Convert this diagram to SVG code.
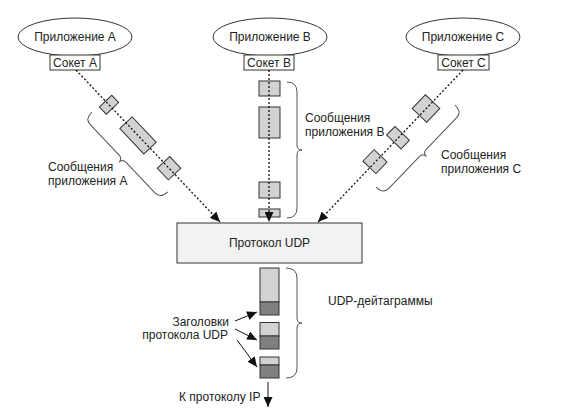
<svg xmlns="http://www.w3.org/2000/svg" width="571" height="418" viewBox="0 0 571 418">
<defs>
<marker id="ah" markerUnits="userSpaceOnUse" markerWidth="10" markerHeight="9" refX="10" refY="4.5" orient="auto">
<path d="M0,0 L10,4.5 L0,9 z" fill="#111"/>
</marker>
<style>
text{font-family:"Liberation Sans",Arial,sans-serif;font-size:12px;fill:#222}
.mid{text-anchor:middle}
.end{text-anchor:end}
.app{fill:#fff;stroke:#333;stroke-width:1}
.sock{fill:#fff;stroke:#333;stroke-width:1}
.msg{fill:#d2d2d2;stroke:#333;stroke-width:1}
.hdr{fill:#808080;stroke:#333;stroke-width:1}
.brace{fill:none;stroke:#555;stroke-width:1}
.dash{fill:none;stroke:#111;stroke-width:1.3;stroke-dasharray:2 2;marker-end:url(#ah)}
.arr{fill:none;stroke:#111;stroke-width:1;marker-end:url(#ah)}
</style>
</defs>
<rect width="571" height="418" fill="#fff"/>

<g id="appA">
<ellipse class="app" cx="75" cy="37" rx="57" ry="19"/>
<text class="mid" x="75" y="41">Приложение A</text>
<rect class="sock" x="50" y="55" width="50" height="15"/>
<text class="mid" x="75" y="67">Сокет A</text>
</g>
<g id="appB">
<ellipse class="app" cx="270" cy="37" rx="57" ry="19"/>
<text class="mid" x="270" y="41">Приложение B</text>
<rect class="sock" x="244" y="55" width="50" height="15"/>
<text class="mid" x="269" y="67">Сокет B</text>
</g>
<g id="appC">
<ellipse class="app" cx="463" cy="37" rx="57" ry="19"/>
<text class="mid" x="463" y="41">Приложение C</text>
<rect class="sock" x="438" y="55" width="51" height="15"/>
<text class="mid" x="463.5" y="67">Сокет C</text>
</g>

<g id="messagesA">
<rect class="msg" x="-5" y="-8.5" width="10" height="17" transform="translate(109,104.8) rotate(46.55)"/>
<rect class="msg" x="-17.5" y="-8.5" width="35" height="17" transform="translate(138,135.4) rotate(46.55)"/>
<rect class="msg" x="-8" y="-8.5" width="16" height="17" transform="translate(169,168.2) rotate(46.55)"/>
</g>
<g id="messagesB">
<rect class="msg" x="259" y="81" width="21" height="15"/>
<rect class="msg" x="259" y="107" width="21" height="31"/>
<rect class="msg" x="259" y="182" width="21" height="16"/>
<rect class="msg" x="259" y="209" width="21" height="8"/>
</g>
<g id="messagesC">
<rect class="msg" x="-9.5" y="-10" width="19" height="20" transform="translate(426,108.5) rotate(133.84)"/>
<rect class="msg" x="-6" y="-10" width="12" height="20" transform="translate(398,137.7) rotate(133.84)"/>
<rect class="msg" x="-8" y="-9" width="16" height="18" transform="translate(375,161.6) rotate(133.84)"/>
</g>

<g id="braces">
<path class="brace" transform="matrix(-0.726,0.688,0.688,0.726,92,112)" d="M0,0 Q10,0 10,8 V50 Q10,55 15,55 Q10,55 10,60 V102 Q10,110 0,110"/>
<path class="brace" d="M287,82 Q297,82 297,92 V145 Q297,150 302,150 Q297,150 297,155 V208 Q297,218 287,218"/>
<path class="brace" transform="matrix(0.721,0.692,-0.692,0.721,455,105)" d="M0,0 Q10,0 10,8 V52 Q10,57 15,57 Q10,57 10,62 V106 Q10,114 0,114"/>
<path class="brace" d="M286,268 Q297,268 297,278 V318 Q297,323 302,323 Q297,323 297,328 V368 Q297,378 286,378"/>
</g>

<g id="labels">
<text x="48" y="171">Сообщения</text>
<text x="48" y="185">приложения A</text>
<text x="305" y="122">Сообщения</text>
<text x="305" y="136">приложения B</text>
<text x="441" y="159">Сообщения</text>
<text x="441" y="173">приложения C</text>
<text x="328" y="305">UDP-дейтаграммы</text>
<text class="end" x="229" y="326">Заголовки</text>
<text class="end" x="228" y="339">протокола UDP</text>
<text x="179" y="401">К протоколу IP</text>
</g>

<g id="udp">
<rect x="177" y="223" width="185" height="40" fill="#f2f2f2" stroke="#333" stroke-width="1"/>
<text class="mid" x="269.5" y="247">Протокол UDP</text>
</g>

<g id="datagrams">
<rect class="msg" x="260" y="268" width="19" height="34"/>
<rect class="hdr" x="260" y="302" width="19" height="13"/>
<rect class="msg" x="260" y="322.5" width="19" height="13.5"/>
<rect class="hdr" x="260" y="336" width="19" height="13"/>
<rect class="msg" x="260" y="357" width="19" height="8"/>
<rect class="hdr" x="260" y="365" width="19" height="13"/>
</g>

<g id="connectors">
<line class="dash" x1="76" y1="70" x2="220" y2="222"/>
<line class="dash" x1="269" y1="70" x2="269" y2="222"/>
<line class="dash" x1="463" y1="70" x2="318" y2="222"/>
<line class="arr" x1="235" y1="321" x2="257" y2="312"/>
<line class="arr" x1="235" y1="329" x2="257" y2="340"/>
<line class="arr" x1="237" y1="340" x2="257" y2="367"/>
<line class="arr" x1="268" y1="382" x2="268" y2="407"/>
</g>
</svg>
